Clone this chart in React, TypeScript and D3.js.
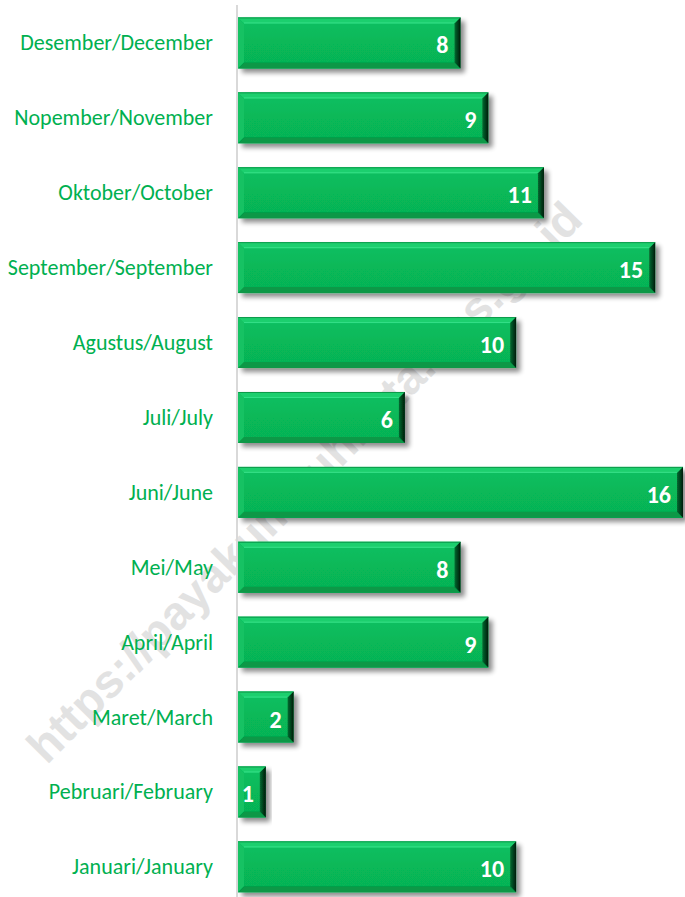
import React from "react";
import * as d3 from "d3";

const months = [
  "Desember/December",
  "Nopember/November",
  "Oktober/October",
  "September/September",
  "Agustus/August",
  "Juli/July",
  "Juni/June",
  "Mei/May",
  "April/April",
  "Maret/March",
  "Pebruari/February",
  "Januari/January",
];
const values = [8, 9, 11, 15, 10, 6, 16, 8, 9, 2, 1, 10];
const watermark = "https://payakumbuhkota.bps.go.id";

const W = 685;
const H = 897;

export default function App() {
  const x = d3.scaleLinear().domain([0, 16]).range([238, 683]);
  const y = d3
    .scaleBand<string>()
    .domain(months)
    .range([5.5, 904.3])
    .paddingInner(0.32)
    .paddingOuter(0.16);
  const bh = y.bandwidth();
  const bv = 6; // bevel size

  return (
    <svg
      width={W}
      height={H}
      style={{ position: "absolute", left: 0, top: 0, background: "#fff" }}
    >
      <defs>
        <filter id="shadow" x="-10%" y="-30%" width="130%" height="170%">
          <feGaussianBlur in="SourceAlpha" stdDeviation="2.5" />
          <feOffset dx="4" dy="4" result="b" />
          <feComponentTransfer>
            <feFuncA type="linear" slope="0.45" />
          </feComponentTransfer>
          <feMerge>
            <feMergeNode />
            <feMergeNode in="SourceGraphic" />
          </feMerge>
        </filter>
        <linearGradient id="rightG" x1="0" x2="1" y1="0" y2="0">
          <stop offset="0" stopColor="#076b32" />
          <stop offset="1" stopColor="#001a08" />
        </linearGradient>
        <linearGradient id="mainG" x1="0" x2="0" y1="0" y2="1">
          <stop offset="0" stopColor="#10c062" />
          <stop offset="0.5" stopColor="#07b858" />
          <stop offset="1" stopColor="#06b255" />
        </linearGradient>
      </defs>

      {/* watermark */}
      <text
        x={304}
        y={482}
        transform="rotate(-45.3 304 482)"
        textAnchor="middle"
        dominantBaseline="central"
        fontFamily="'Liberation Sans', Arial, sans-serif"
        fontWeight="bold"
        fontSize={47}
        fill="#e2e2e2"
      >
        {watermark}
      </text>

      {/* axis line */}
      <line x1={237} x2={237} y1={5} y2={897} stroke="#d9d9d9" strokeWidth={2} />

      {months.map((m, i) => {
        const y0 = y(m)!;
        const x0 = x(0);
        const x1 = x(values[i]);
        const w = x1 - x0;
        const cy = y0 + bh / 2;
        return (
          <g key={m}>
            <text
              x={213}
              y={cy}
              textAnchor="end"
              dominantBaseline="central"
              fontFamily="Carlito, Lato, 'Liberation Sans Narrow', sans-serif"
              fontSize={22}
              fill="#00b050"
            >
              {m}
            </text>
            <g filter="url(#shadow)">
              <rect x={x0} y={y0} width={w} height={bh} fill="url(#mainG)" />
              {/* top bevel */}
              <polygon
                points={`${x0},${y0} ${x1},${y0} ${x1 - bv},${y0 + bv} ${x0 + bv},${y0 + bv}`}
                fill="#1fcf6e"
              />
              <line x1={x0} x2={x1} y1={y0 + 0.5} y2={y0 + 0.5} stroke="#0a9a4a" strokeWidth={1} />
              <line x1={x0 + bv} x2={x1 - bv} y1={y0 + bv - 0.5} y2={y0 + bv - 0.5} stroke="#35e088" strokeWidth={1} />
              {/* left bevel */}
              <polygon
                points={`${x0},${y0} ${x0 + bv},${y0 + bv} ${x0 + bv},${y0 + bh - bv} ${x0},${y0 + bh}`}
                fill="#13c263"
              />
              {/* bottom bevel */}
              <polygon
                points={`${x0},${y0 + bh} ${x0 + bv},${y0 + bh - bv} ${x1 - bv},${y0 + bh - bv} ${x1},${y0 + bh}`}
                fill="#079846"
              />
              {/* right bevel */}
              <polygon
                points={`${x1},${y0} ${x1},${y0 + bh} ${x1 - bv},${y0 + bh - bv} ${x1 - bv},${y0 + bv}`}
                fill="url(#rightG)"
              />
            </g>
            <text
              x={x1 - 12}
              y={cy + 2}
              textAnchor="end"
              dominantBaseline="central"
              fontFamily="Carlito, Lato, 'Open Sans', sans-serif"
              fontWeight="bold"
              fontSize={24}
              fill="#ffffff"
            >
              {values[i]}
            </text>
          </g>
        );
      })}
    </svg>
  );
}
